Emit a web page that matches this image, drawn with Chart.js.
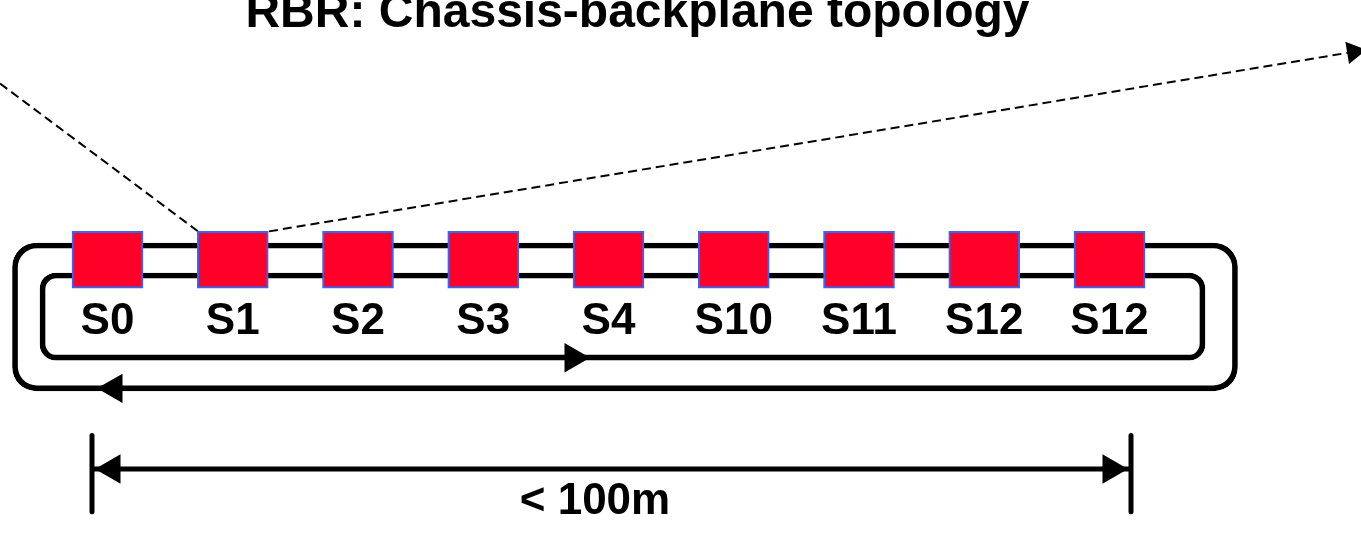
<!DOCTYPE html>
<html>
<head>
<meta charset="utf-8">
<title>RBR: Chassis-backplane topology</title>
<script src="https://cdn.jsdelivr.net/npm/chart.js@4.4.0/dist/chart.umd.min.js"></script>
<style>
    html, body { margin: 0; padding: 0; background: #ffffff; }
    #wrap { position: relative; width: 1361px; height: 533px; }
</style>
</head>
<body>
<div id="wrap"><canvas id="topologyChart"></canvas></div>
<script>
// Stations plugged into the backplane, left to right
const stations = ['S0', 'S1', 'S2', 'S3', 'S4', 'S10', 'S11', 'S12', 'S12'];
const slots = [0, 1, 2, 3, 4, 5, 6, 7, 8];
const spanText = ['< 100m'];

// Drawing geometry, in axis units (one slot = one unit, both directions)
const cardRows = [1.956, 2.411];            // card bottom / top
const outerRing = [4.1317, 1.1361, 2.3178];  // centre x, bottom, top
const innerRing = [4.1118, 1.3812, 2.0783];
const labelRow = 1.90;                       // station names hang below this
const spanRow = 0.463;                       // "< 100m" hangs below this
const spanCentre = 3.892;

const spanLineX = [-0.1238, 8.1717];
const spanLineY = 0.511;
const spanBarY = [0.17, 0.78];

const leadLeftX = [-0.8583, 0.7226];
const leadLeftY = [3.5928, 2.411];
const leadRightX = [1.2894, 9.949];
const leadRightY = [2.411, 3.8459];

// arrow heads: ring flow, ring return, span ends, lead line
const arrowX = [3.7166, 0.0519, 0.0359, 8.0120, 9.949];
const arrowY = [1.4012, 1.1561, 0.511, 0.511, 3.8459];
const arrowTurn = [90, -90, -90, 90, 80.6];
const arrowSize = [17, 17, 17, 17, 13];

const xMin = -0.8583;
const xMax = 10.008;

Chart.defaults.font.family = "'Liberation Sans', Arial, Helvetica, sans-serif";
Chart.defaults.color = '#000000';

function pts(xs, ys) {
    return xs.map((x, i) => ({ x: x, y: ys[i] }));
}

function labelAxis(row, values, texts) {
    return {
        type: 'linear',
        min: xMin,
        max: xMax,
        offset: false,
        position: { y: row },
        grid: { display: false, drawTicks: false },
        border: { display: false },
        afterBuildTicks: function (scale) {
            scale.ticks = values.map(v => ({ value: v }));
        },
        ticks: {
            autoSkip: false,
            maxRotation: 0,
            minRotation: 0,
            padding: 0,
            color: '#000000',
            font: { size: 44, weight: 'bold' },
            callback: function (value, index) {
                return texts[index];
            }
        }
    };
}

const ctx = document.getElementById('topologyChart').getContext('2d');

const topologyChart = new Chart(ctx, {
    type: 'bar',
    data: {
        datasets: [
            {
                // arrow heads on top of everything
                type: 'line',
                data: pts(arrowX, arrowY),
                xAxisID: 'x',
                showLine: false,
                pointStyle: 'triangle',
                pointRadius: arrowSize,
                pointRotation: arrowTurn,
                pointBackgroundColor: '#000000',
                pointBorderColor: '#000000',
                pointBorderWidth: 0,
                clip: false,
                order: 0
            },
            {
                // station cards
                type: 'bar',
                data: slots.map(s => ({ x: s, y: cardRows })),
                xAxisID: 'x',
                stack: 'board',
                barThickness: 71,
                backgroundColor: '#ff0029',
                borderColor: '#3366ff',
                borderWidth: 2,
                borderSkipped: false,
                clip: false,
                order: 1
            },
            {
                type: 'line',
                data: pts(leadLeftX, leadLeftY),
                xAxisID: 'x',
                borderColor: '#000000',
                borderWidth: 2,
                borderDash: [9, 5],
                pointRadius: 0,
                fill: false,
                clip: false,
                order: 2
            },
            {
                type: 'line',
                data: pts(leadRightX, leadRightY),
                xAxisID: 'x',
                borderColor: '#000000',
                borderWidth: 2,
                borderDash: [9, 5],
                pointRadius: 0,
                fill: false,
                clip: false,
                order: 2
            },
            {
                // span dimension line
                type: 'line',
                data: pts(spanLineX, [spanLineY, spanLineY]),
                xAxisID: 'x',
                borderColor: '#000000',
                borderWidth: 5,
                pointRadius: 0,
                fill: false,
                clip: false,
                order: 2
            },
            {
                type: 'line',
                data: pts([spanLineX[0], spanLineX[0]], spanBarY),
                xAxisID: 'x',
                borderColor: '#000000',
                borderWidth: 5,
                borderCapStyle: 'round',
                pointRadius: 0,
                fill: false,
                clip: false,
                order: 2
            },
            {
                type: 'line',
                data: pts([spanLineX[1], spanLineX[1]], spanBarY),
                xAxisID: 'x',
                borderColor: '#000000',
                borderWidth: 5,
                borderCapStyle: 'round',
                pointRadius: 0,
                fill: false,
                clip: false,
                order: 2
            },
            {
                // outer ring
                type: 'bar',
                data: [{ x: outerRing[0], y: [outerRing[1], outerRing[2]] }],
                xAxisID: 'x',
                stack: 'board',
                barThickness: 1225,
                backgroundColor: 'rgba(0, 0, 0, 0)',
                borderColor: '#000000',
                borderWidth: 5,
                borderRadius: 24,
                borderSkipped: false,
                clip: false,
                order: 3
            },
            {
                // inner ring
                type: 'bar',
                data: [{ x: innerRing[0], y: [innerRing[1], innerRing[2]] }],
                xAxisID: 'x',
                stack: 'board',
                barThickness: 1165,
                backgroundColor: 'rgba(0, 0, 0, 0)',
                borderColor: '#000000',
                borderWidth: 5,
                borderRadius: 16,
                borderSkipped: false,
                clip: false,
                order: 3
            }
        ]
    },
    options: {
        responsive: true,
        maintainAspectRatio: false,
        animation: false,
        events: [],
        layout: {
            autoPadding: false,
            // negative left padding only shifts the full-width title
            padding: { left: -86, right: 0, top: 0, bottom: 0 }
        },
        plugins: {
            legend: { display: false },
            tooltip: { enabled: false },
            title: {
                display: true,
                text: 'RBR: Chassis-backplane topology',
                color: '#000000',
                font: { size: 48, weight: 'bold', lineHeight: 1.2 },
                padding: { top: -15, bottom: -42 }
            }
        },
        scales: {
            x: labelAxis(labelRow, slots, stations),
            xd: labelAxis(spanRow, [spanCentre], spanText),
            y: {
                type: 'linear',
                display: false,
                stacked: false,
                min: 0,
                max: 4.2555
            }
        }
    }
});
</script>
</body>
</html>
